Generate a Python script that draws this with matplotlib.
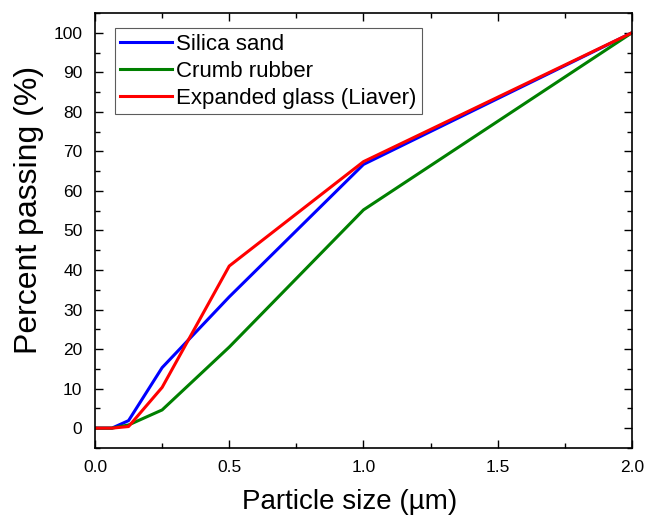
import matplotlib
matplotlib.use("Agg")
from matplotlib import pyplot as plt
from matplotlib import ticker as ticker

plt.rcParams["font.family"] = ["Liberation Sans", "DejaVu Sans"]

# Data
size_um = [0.0, 0.063, 0.125, 0.25, 0.5, 1.0, 2.0]
silica_sand = [0.0, 0.0, 1.9, 15.3, 33.2, 66.7, 100.0]
crumb_rubber = [0.0, 0.0, 0.8, 4.6, 20.5, 55.2, 100.0]
expanded_glass = [0.0, 0.0, 0.4, 10.3, 41.0, 67.4, 100.0]

fig = plt.figure(figsize=(6.48, 5.19), dpi=100)
ax = fig.add_axes([0.1466, 0.137, 0.8287, 0.838])

ax.plot(size_um, silica_sand, color="#0000ff", lw=2.2, label="Silica sand")
ax.plot(size_um, crumb_rubber, color="#008000", lw=2.2, label="Crumb rubber")
ax.plot(size_um, expanded_glass, color="#ff0000", lw=2.2, label="Expanded glass (Liaver)")

ax.set_xlim(0, 2.0)
ax.set_ylim(-5, 105)
ax.xaxis.set_major_locator(ticker.MultipleLocator(0.5))
ax.xaxis.set_minor_locator(ticker.MultipleLocator(0.25))
ax.xaxis.set_major_formatter(ticker.FormatStrFormatter("%.1f"))
ax.yaxis.set_major_locator(ticker.MultipleLocator(10))
ax.yaxis.set_minor_locator(ticker.MultipleLocator(5))

ax.tick_params(which="both", direction="in", top=True, right=True, labelsize=12.5, width=1)
ax.tick_params(which="major", length=6, pad=9)
ax.tick_params(which="minor", length=3.5)
for s in ax.spines.values():
    s.set_linewidth(1.2)

ax.set_xlabel("Particle size (µm)", fontsize=20)
ax.set_ylabel("Percent passing (%)", fontsize=23)
ax.xaxis.set_label_coords(0.475, -0.095)
ax.yaxis.set_label_coords(-0.095, 0.547)

leg = ax.legend(loc="upper left", fontsize=16, frameon=True, fancybox=False,
                edgecolor="#333333", handlelength=2.3, handletextpad=0.2,
                borderpad=0.25, borderaxespad=0, labelspacing=0.27,
                bbox_to_anchor=(0.037, 0.9655))
leg.get_frame().set_linewidth(0.8)

fig.savefig("out.png", dpi=100)
